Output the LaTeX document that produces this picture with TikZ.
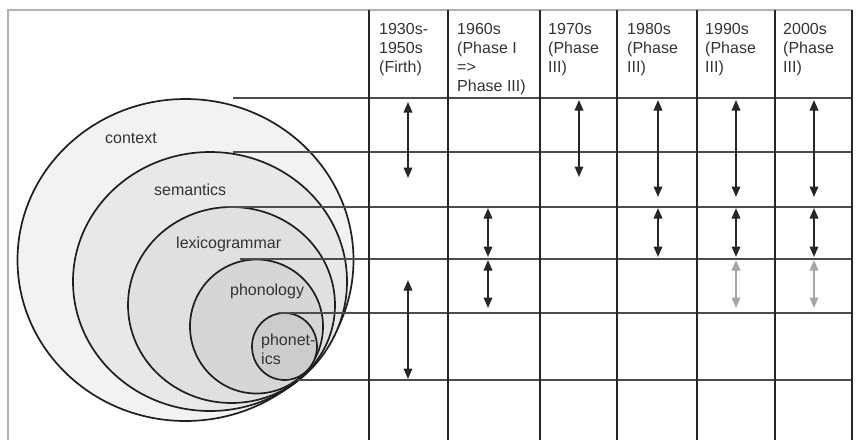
\documentclass[tikz,border=0pt]{standalone}
\usepackage{fontspec}
\setmainfont{Liberation Sans}
\usetikzlibrary{arrows.meta}
\begin{document}
\begin{tikzpicture}[x=1pt,y=-1pt,
  ring/.style={draw=black!88, line width=1.7pt},
  rowline/.style={draw=black!70, line width=1.5pt},
  colline/.style={draw=black!85, line width=2pt},
  frameline/.style={draw=black!30, line width=1.6pt},
  twoway/.style={<->, >={Triangle[length=10.5pt,width=8.5pt]}, line width=1.8pt, draw=black!85},
  faint/.style={twoway, draw=black!35},
  lab/.style={inner sep=0pt, text=black!80, font=\fontsize{16}{19}\selectfont},
  head/.style={lab, anchor=north west, align=left}
]
\useasboundingbox (0,0) rectangle (858,440);
\fill[white] (0,0) rectangle (858,440);

% nested layers, all touching at the lower right
\filldraw[ring, fill=black!5]  (185.5,260)   ellipse [x radius=168,  y radius=161];
\filldraw[ring, fill=black!9]  (210,281.5)   ellipse [x radius=137,  y radius=129.5];
\filldraw[ring, fill=black!12] (231.5,305)   ellipse [x radius=103.5,y radius=98];
\filldraw[ring, fill=black!16] (256.5,326.5) ellipse [x radius=66.5, y radius=67];
\filldraw[ring, fill=black!20] (284.5,346.5) ellipse [x radius=32.5, y radius=33.5];

% layer names
\node[lab, anchor=base west] (lctx) at (105,143) {context};
\node[lab, anchor=base west] (lsem) at (154,195) {semantics};
\node[lab, anchor=base west] (llex) at (176,248) {lexicogrammar};
\node[lab, anchor=base west] (lpho) at (230,295) {phonology};
\node[lab, anchor=north west, align=left] (lphn) at (261,333.5) {phonet-\\ics};

% outer frame
\draw[frameline] (8,440) -- (8,10) -- (852,10);

% row boundaries, starting at the layer edges
\foreach \n/\x/\y in {1/233/98, 2/233/152, 3/227/207, 4/240/259, 5/278/313, 6/297/380}{
  \coordinate (r\n w) at (\x,\y);
  \coordinate (r\n e) at (852,\y);
  \draw[rowline] (r\n w) -- (r\n e);
}

% column boundaries
\foreach \n/\x in {0/369, 1/448, 2/540, 3/617, 4/697, 5/775, 6/852}{
  \coordinate (k\n t) at (\x,10);
  \coordinate (k\n b) at (\x,440);
  \draw[colline] (k\n t) -- (k\n b);
}

% column headings
\node[head] (h1) at (379,23.5) {1930s-\\1950s\\(Firth)};
\node[head] (h2) at (457,23.5) {1960s\\(Phase I\\=>\\Phase III)};
\node[head] (h3) at (548,23.5) {1970s\\(Phase\\III)};
\node[head] (h4) at (627,23.5) {1980s\\(Phase\\III)};
\node[head] (h5) at (705,23.5) {1990s\\(Phase\\III)};
\node[head] (h6) at (783,23.5) {2000s\\(Phase\\III)};

% arrow end points
\foreach \n/\x/\ya/\yb in {a/408/102/178, b/408/280/379,
                          c/488/208/257, d/488/260/308,
                          e/579/100/177,
                          f/658/100/197, g/658/208/257,
                          h/736/100/197, i/736/208/257, j/736/260/308,
                          k/814/100/197, l/814/208/257, m/814/260/308}{
  \coordinate (\n1) at (\x,\ya);
  \coordinate (\n2) at (\x,\yb);
}

% spans of each period
\foreach \n in {a,b,c,d,e,f,g,h,i,k,l}{
  \draw[twoway] (\n1) -- (\n2);
}
\draw[faint] (j1) -- (j2);
\draw[faint] (m1) -- (m2);
\end{tikzpicture}
\end{document}
